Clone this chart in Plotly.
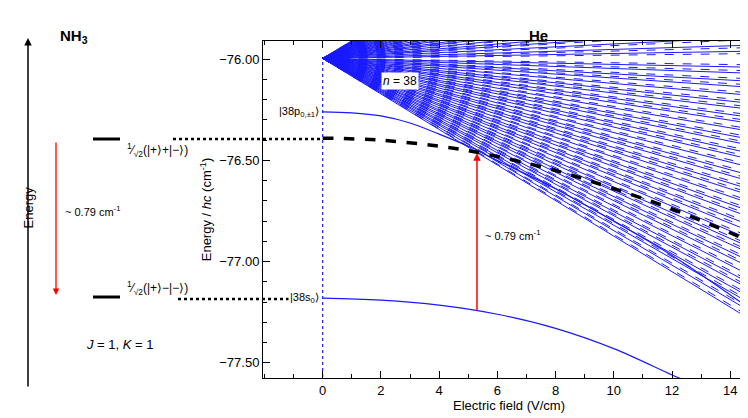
import plotly.graph_objects as go

# field values (V/cm) and energies (cm^-1)
x_end = 14.85
fan_down_end = [-76.04, -76.07, -76.11, -76.14, -76.18, -76.22, -76.25, -76.29, -76.32, -76.36,
                -76.40, -76.43, -76.47, -76.50, -76.54, -76.58, -76.61, -76.65, -76.68, -76.72,
                -76.76, -76.79, -76.83, -76.86, -76.90, -76.94, -76.97, -77.01, -77.04, -77.08,
                -77.12, -77.15, -77.19, -77.22, -77.26, -77.30]
fan_up_end = [-75.96, -75.93, -75.89, -75.85, -75.82, -75.78, -75.74, -75.71, -75.67, -75.64,
              -75.60, -75.56, -75.53, -75.49, -75.46, -75.42, -75.38, -75.35, -75.31, -75.28,
              -75.24, -75.20, -75.17, -75.13, -75.10, -75.06, -75.02, -74.99, -74.95, -74.92,
              -74.88, -74.84, -74.81, -74.77, -74.74, -74.70]
e0 = -75.996

p_x = [0, 1, 2, 3, 4, 5, 6, 8, 10, 12, 14.85]
p_y = [-76.26, -76.265, -76.28, -76.315, -76.37, -76.43, -76.50, -76.64, -76.80, -76.97, -77.25]
s_x = [0, 2, 4, 6, 8, 10, 12, 12.5]
s_y = [-77.18, -77.19, -77.215, -77.26, -77.33, -77.43, -77.56, -77.59]
nh3_x = [0, 2, 4, 5.3, 8, 10, 12, 14.85]
nh3_y = [-76.39, -76.40, -76.43, -76.46, -76.55, -76.64, -76.74, -76.91]
arrow_x = 5.3
arrow_lo, arrow_hi = -77.25, -76.465

fig = go.Figure()
blue = "#1a1aff"
for ends, off in [(fan_down_end, 0.012), (fan_up_end, -0.012)]:
    for e in ends:
        fig.add_trace(go.Scatter(x=[0, x_end], y=[e0, e], mode="lines",
                                 line=dict(color=blue, width=1), hoverinfo="skip"))
        fig.add_trace(go.Scatter(x=[0, x_end], y=[e0, e + off], mode="lines",
                                 line=dict(color=blue, width=1, dash="dash"), hoverinfo="skip"))
fig.add_trace(go.Scatter(x=p_x, y=p_y, mode="lines", line=dict(color=blue, width=1.2, shape="spline")))
fig.add_trace(go.Scatter(x=s_x, y=s_y, mode="lines", line=dict(color=blue, width=1.2, shape="spline")))
fig.add_trace(go.Scatter(x=nh3_x, y=nh3_y, mode="lines",
                         line=dict(color="black", width=3.5, dash="dash", shape="spline")))
fig.add_trace(go.Scatter(x=[0, 0], y=[-77.6, e0], mode="lines", line=dict(color=blue, width=1.2, dash="dot")))

W, H, L, R, T, B = 748, 418, 255, 1, 33, 48
def px(p): return (p - L) / (W - L - R)
def py(q): return (H - B - q) / (H - T - B)

shapes = [
    dict(type="line", xref="paper", yref="paper", x0=px(85), x1=px(112), y0=py(131), y1=py(131), line=dict(color="black", width=3)),
    dict(type="line", xref="paper", yref="paper", x0=px(85), x1=px(112), y0=py(289), y1=py(289), line=dict(color="black", width=3)),
    dict(type="line", xref="paper", yref="paper", x0=px(165), x1=px(313), y0=py(131), y1=py(131), line=dict(color="black", width=2.5, dash="dot")),
    dict(type="line", xref="paper", yref="paper", x0=px(170), x1=px(313), y0=py(291), y1=py(291), line=dict(color="black", width=2.5, dash="dot")),
]
ann = [
    dict(xref="paper", yref="paper", x=px(20), y=py(30), ax=0, ay=350,
         showarrow=True, arrowhead=2, arrowwidth=1.5, arrowcolor="black", text=""),
    dict(xref="paper", yref="paper", x=px(48), y=py(287), ax=0, ay=-154,
         showarrow=True, arrowhead=2, arrowwidth=1.3, arrowcolor="red", text=""),
    dict(x=arrow_x, y=arrow_hi, ax=arrow_x, ay=arrow_lo, axref="x", ayref="y",
         showarrow=True, arrowhead=2, arrowwidth=1.5, arrowcolor="red", text=""),
    dict(xref="paper", yref="paper", x=px(50), y=py(17), text="<b>NH<sub>3</sub></b>", showarrow=False, font=dict(size=15)),
    dict(xref="paper", yref="paper", x=px(530), y=py(17), text="<b>He</b>", showarrow=False, font=dict(size=15)),
    dict(xref="paper", yref="paper", x=px(10), y=py(200), text="Energy", textangle=-90, showarrow=False, font=dict(size=13)),
    dict(xref="paper", yref="paper", x=px(55), y=py(203), text="~ 0.79 cm<sup>-1</sup>", xanchor="left", showarrow=False, font=dict(size=11)),
    dict(xref="paper", yref="paper", x=px(76), y=py(346), text="<i>J</i> = 1, <i>K</i> = 1", xanchor="left", showarrow=False, font=dict(size=13)),
    dict(xref="paper", yref="paper", x=px(117), y=py(131), text="<sup>1</sup>⁄<sub>√2</sub>(|+⟩+|−⟩)", xanchor="left", showarrow=False, font=dict(size=12)),
    dict(xref="paper", yref="paper", x=px(117), y=py(291), text="<sup>1</sup>⁄<sub>√2</sub>(|+⟩−|−⟩)", xanchor="left", showarrow=False, font=dict(size=12)),
    dict(x=2.65, y=-76.11, text="<i>n</i> = 38", showarrow=False, bgcolor="white", font=dict(size=12)),
    dict(x=-0.05, y=-76.26, text="|38p<sub>0,±1</sub>⟩", xanchor="right", showarrow=False, bgcolor="white", font=dict(size=11)),
    dict(x=-0.05, y=-77.18, text="|38s<sub>0</sub>⟩", xanchor="right", showarrow=False, bgcolor="white", font=dict(size=11)),
    dict(x=5.5, y=-76.87, text="~ 0.79 cm<sup>-1</sup>", xanchor="left", showarrow=False, bgcolor="white", font=dict(size=11)),
]

axis_common = dict(showgrid=False, zeroline=False, showline=True, linecolor="black", linewidth=1,
                   mirror="ticks", ticks="inside", ticklen=7, tickcolor="black")
fig.update_layout(
    width=W, height=H, margin=dict(l=L, r=R, t=T, b=B), showlegend=False,
    plot_bgcolor="white", paper_bgcolor="white",
    font=dict(family="Liberation Sans, Arial", color="black", size=13),
    shapes=shapes, annotations=ann,
    xaxis=dict(range=[-2.05, 14.85], tickvals=[0, 2, 4, 6, 8, 10, 12, 14],
               minor=dict(dtick=1, ticks="inside", ticklen=4, tickcolor="black"),
               title=dict(text="Electric field (V/cm)", standoff=2, font=dict(size=13)), **axis_common),
    yaxis=dict(range=[-77.575, -75.91], tickvals=[-76, -76.5, -77, -77.5], tickformat=".2f",
               minor=dict(dtick=0.1, ticks="inside", ticklen=4, tickcolor="black"),
               title=dict(text="Energy / <i>hc</i> (cm<sup>-1</sup>)", standoff=4, font=dict(size=13)), **axis_common),
)
fig.write_html("out.html")
